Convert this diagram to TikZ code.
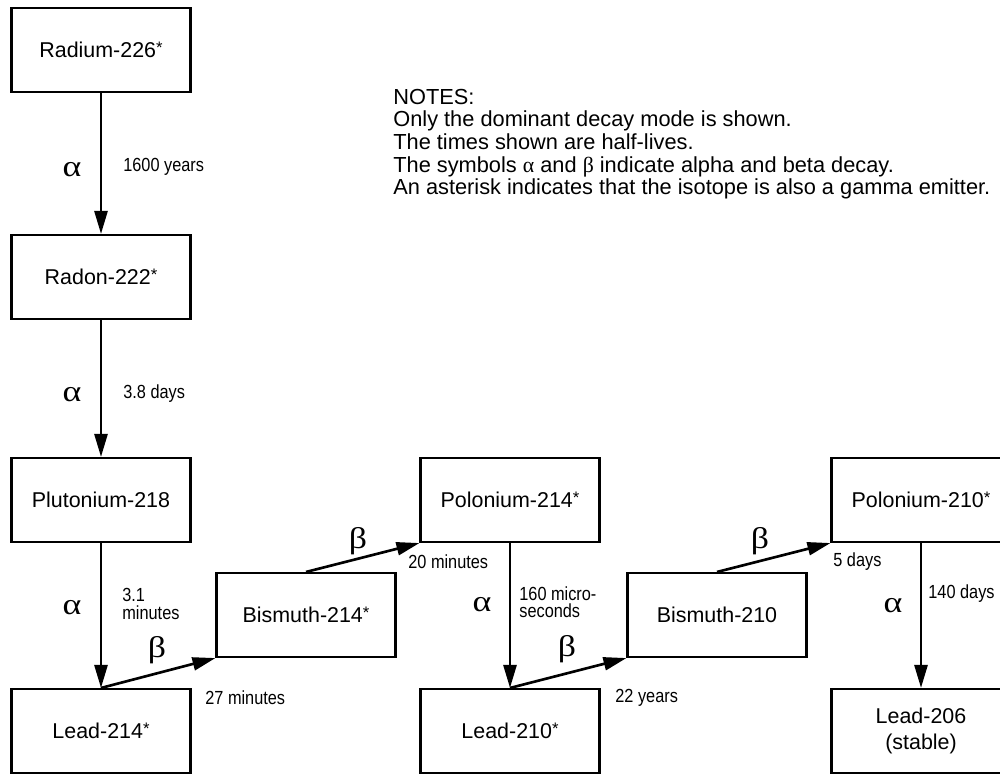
\documentclass[tikz,border=0pt]{standalone}
\usepackage{fontspec}
\setmainfont{Liberation Sans}
\newfontfamily\greekfont{Liberation Serif}
\newfontfamily\modefont[FakeStretch=1.2]{Liberation Serif}
\newfontfamily\narrowfont[FakeStretch=0.86]{Liberation Sans}
\usetikzlibrary{arrows.meta, positioning}
\newcommand{\gam}{\raisebox{2.5pt}{\fontsize{9.5}{9.5}\selectfont *}}

\begin{document}
\begin{tikzpicture}[x=0.02cm, y=-0.02cm, font=\fontsize{12.2}{14.5}\selectfont,
    isotope/.style={draw, line width=1.2pt, minimum width=3.58cm, minimum height=1.68cm, inner sep=0pt, align=center},
    decay/.style={line width=1.5pt, -{Triangle[length=0.46cm, width=0.26cm]}},
    halflife/.style={anchor=west, inner sep=0pt, align=left, font=\narrowfont\fontsize{10.8}{9.8}\selectfont},
    mode/.style={inner sep=0pt, font=\modefont\fontsize{17}{17}\selectfont}]
        \useasboundingbox (0,0) rectangle (1000,774);
        \clip (0,0) rectangle (1000,774);
        % isotopes
        \foreach \name/\x/\y/\txt in {
            ra226/101/50/{Radium-226\gam},
            rn222/101/277/{Radon-222\gam},
            pl218/101/500/{Plutonium-218},
            pb214/101/731/{Lead-214\gam},
            bi214/306/615/{Bismuth-214\gam},
            po214/510/500/{Polonium-214\gam},
            pb210/510/731/{Lead-210\gam},
            bi210/717/615/{Bismuth-210},
            po210/921/500/{Polonium-210\gam},
            pb206/921/731/{Lead-206\\(stable)}}
        {
            \node[isotope] (\name) at (\x,\y) {\txt};
        }
        % alpha and beta decays
        \foreach \from/\to in {ra226/rn222, rn222/pl218, pl218/pb214, po214/pb210, po210/pb206}
            \draw[decay] (\from.south) -- (\to.north);
        \foreach \from/\to in {pb214/bi214, bi214/po214, pb210/bi210, bi210/po210}
            \draw[decay] (\from.north) -- (\to.south west);
        \foreach \n/\x/\y in {1/72/170, 2/72/395, 3/72/608, 4/482/605, 5/893/606}
            \node[mode] (alpha\n) at (\x,\y) {α};
        \foreach \n/\x/\y in {1/157/650, 2/358/541, 3/567/649, 4/760/541}
            \node[mode] (beta\n) at (\x,\y) {β};
        % half-lives
        \foreach \n/\x/\y/\txt in {
            1/123/167/{1600 years},
            2/123/394/{3.8 days},
            3/122/604/{3.1\\minutes},
            4/205/698/{27 minutes},
            5/408/562/{20 minutes},
            6/519/602/{160 micro-\\seconds},
            7/615/698/{22 years},
            8/833/562/{5 days},
            9/928/594/{140 days}}
        {
            \node[halflife] (t\n) at (\x,\y) {\txt};
        }
        \node[anchor=north west, inner sep=0pt, align=left, font=\fontsize{12.4}{12.9}\selectfont] (notes) at (393,88.6)
            {NOTES:\\
             Only the dominant decay mode is shown.\\
             The times shown are half-lives.\\
             The symbols {\greekfont α} and {\greekfont β} indicate alpha and beta decay.\\
             An asterisk indicates that the isotope is also a gamma emitter.};
    \end{tikzpicture}
\end{document}
